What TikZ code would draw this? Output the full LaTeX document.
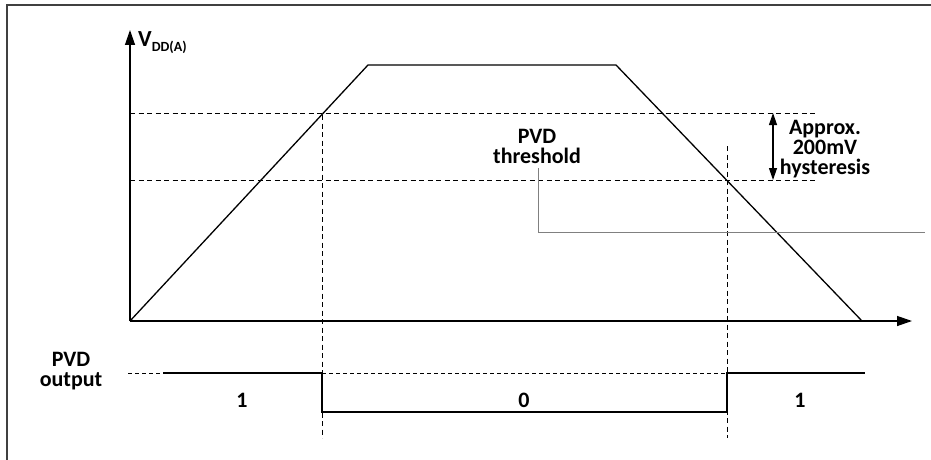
\documentclass[tikz,border=0pt]{standalone}
\usepackage{fontspec}
\setmainfont{Carlito}
\usetikzlibrary{arrows.meta}

\begin{document}
\begin{tikzpicture}
                [
                x=1pt,y=-1pt,
                axis/.style={line width=1.3pt,-{Triangle[length=15pt,width=10pt]}},
                ramp/.style={line width=1.3pt},
                guide/.style={line width=0.9pt,dash pattern=on 5pt off 3.5pt},
                fine/.style={line width=0.8pt,dash pattern=on 4pt off 3pt},
                level/.style={line width=2pt},
                leader/.style={line width=0.8pt,gray},
                hyst/.style={line width=1.2pt,{Triangle[length=12pt,width=8pt]}-{Triangle[length=12pt,width=8pt]}},
                txt/.style={font=\fontsize{22}{20}\selectfont\bfseries,align=center,inner sep=0pt}
                ]
            \useasboundingbox (0,0) rectangle (931,460);
            \clip (0,0) rectangle (931,460);
            \draw[line width=1.5pt,black!75] (7,480) -- (7,5) -- (950,5);
            % axes and supply ramp
            \coordinate (o) at (130,321);
            \coordinate (ytip) at (130,30);
            \coordinate (xtip) at (912,321);
            \coordinate (rise) at (368,65);
            \coordinate (fall) at (616,65);
            \coordinate (end) at (862,321);
            \draw[axis] (o) -- (ytip);
            \draw[axis] (o) -- (xtip);
            \draw[ramp] (o) -- (rise) -- (fall) -- (end);
            % threshold levels
            \coordinate (hi0) at (130,113);
            \coordinate (hi1) at (815,113);
            \coordinate (lo0) at (130,180);
            \coordinate (lo1) at (815,180);
            \draw[guide] (hi0) -- (hi1);
            \draw[guide] (lo0) -- (lo1);
            \coordinate (up0) at (322,115);
            \coordinate (up1) at (322,438);
            \coordinate (dn0) at (727,146);
            \coordinate (dn1) at (727,438);
            \draw[guide] (up0) -- (up1);
            \draw[guide] (dn0) -- (dn1);
            \coordinate (h0) at (773,113);
            \coordinate (h1) at (773,180);
            \draw[hyst] (h0) -- (h1);
            % labels
            \node[txt,anchor=base west,font=\fontsize{23}{23}\selectfont\bfseries] (vdd) at (138,47) {V\raisebox{-5pt}{\fontsize{14}{14}\selectfont DD(A)}};
            \node[txt] (thr) at (537,146.3) {PVD\\threshold};
            \node[txt] (hys) at (825,149.5) {Approx.\\200mV\\hysteresis};
            \coordinate (l0) at (538,168);
            \coordinate (l1) at (538,232);
            \coordinate (l2) at (925,232);
            \draw[leader] (l0) -- (l1) -- (l2);
            % output
            \node[txt] (out) at (71,371.5) {PVD\\output};
            \coordinate (s0) at (128,373);
            \coordinate (s1) at (163,373);
            \coordinate (s2) at (322,373);
            \coordinate (s3) at (322,412);
            \coordinate (s4) at (727,412);
            \coordinate (s5) at (727,373);
            \coordinate (s6) at (865,373);
            \draw[fine] (s0) -- (s1);
            \draw[fine] (s2) -- (s5);
            \draw[level] (s1) -- (s2) -- (s3) -- (s4) -- (s5) -- (s6);
            \node[txt] (one1) at (242,400) {1};
            \node[txt] (zero) at (524,400) {0};
            \node[txt] (one2) at (800,400) {1};
            \end{tikzpicture}
\end{document}
